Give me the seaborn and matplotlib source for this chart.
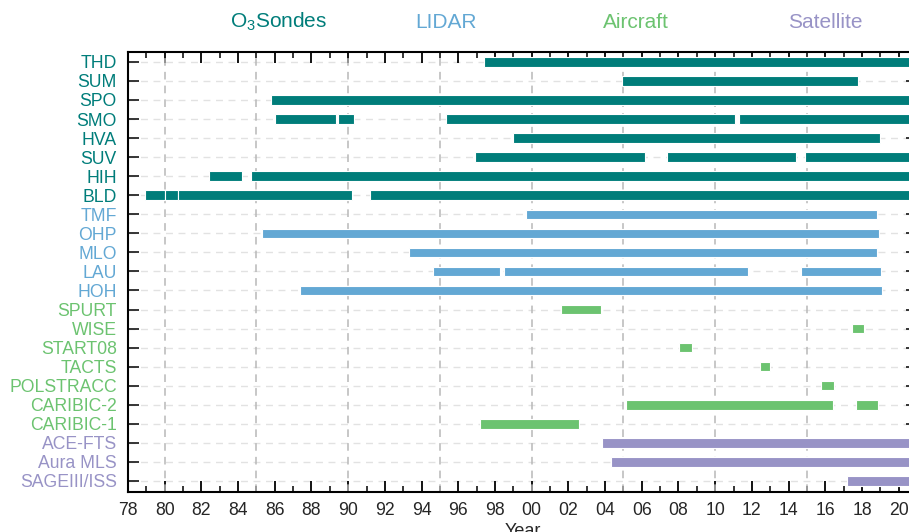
import numpy as np
import pandas as pd
import matplotlib
matplotlib.use("Agg")
import matplotlib.pyplot as plt
import seaborn as sns

# ---------------- data ----------------
stations = ["THD", "SUM", "SPO", "SMO", "HVA", "SUV", "HIH", "BLD",
            "TMF", "OHP", "MLO", "LAU", "HOH",
            "SPURT", "WISE", "START08", "TACTS", "POLSTRACC", "CARIBIC-2", "CARIBIC-1",
            "ACE-FTS", "Aura MLS", "SAGEIII/ISS"]
station_group = (["O3Sondes"] * 8 + ["LIDAR"] * 5 + ["Aircraft"] * 7 + ["Satellite"] * 3)
group_names = ["O3Sondes", "LIDAR", "Aircraft", "Satellite"]
group_titles = ["O$_3$Sondes", "LIDAR", "Aircraft", "Satellite"]

seg_station = ["THD", "SUM", "SPO",
               "SMO", "SMO", "SMO", "SMO",
               "HVA",
               "SUV", "SUV", "SUV",
               "HIH", "HIH",
               "BLD", "BLD", "BLD", "BLD",
               "TMF", "OHP", "MLO",
               "LAU", "LAU", "LAU",
               "HOH",
               "SPURT", "WISE", "START08", "TACTS", "POLSTRACC",
               "CARIBIC-2", "CARIBIC-2", "CARIBIC-1",
               "ACE-FTS", "Aura MLS", "SAGEIII/ISS"]
seg_start = [1997.4, 2004.9, 1985.8,
             1986.0, 1989.47, 1995.35, 2011.3,
             1999.0,
             1996.9, 2007.4, 2014.9,
             1982.4, 1984.7,
             1978.9, 1980.0, 1980.7, 1991.2,
             1999.7, 1985.3, 1993.3,
             1994.6, 1998.5, 2014.7,
             1987.4,
             2001.6, 2017.45, 2008.05, 2012.45, 2015.75,
             2005.15, 2017.7, 1997.2,
             2003.85, 2004.35, 2017.2]
seg_end = [2021.5, 2017.8, 2021.5,
           1989.35, 1990.3, 2011.1, 2021.5,
           2019.0,
           2006.2, 2014.4, 2021.5,
           1984.2, 2021.5,
           1980.0, 1980.7, 1990.2, 2021.5,
           2018.8, 2018.95, 2018.8,
           1998.3, 2011.8, 2019.05,
           2019.1,
           2003.8, 2018.1, 2008.75, 2013.0, 2016.5,
           2016.4, 2018.9, 2002.6,
           2021.5, 2021.5, 2021.5]

year_ticks = list(range(1978, 2021, 2))
year_labels = [f"{y % 100:02d}" for y in year_ticks]

# ---------------- style ----------------
colors = {"O3Sondes": "#007d7a", "LIDAR": "#63a8d4",
          "Aircraft": "#6cc370", "Satellite": "#9893c6"}

sns.set_style("ticks")
plt.rcParams["font.family"] = ["Liberation Sans", "DejaVu Sans"]
plt.rcParams["mathtext.default"] = "regular"

fig = plt.figure(figsize=(9.09, 5.32), dpi=100)
W, H = 909, 532
left_px, right_px, top_px, bot_px = 128, 917, 52, 492
ax = fig.add_axes([left_px / W, 1 - bot_px / H, (right_px - left_px) / W, (bot_px - top_px) / H])

segs = pd.DataFrame({"station": seg_station, "start": seg_start, "end": seg_end})
segs["length"] = segs["end"] - segs["start"]
grp_of = dict(zip(stations, station_group))

for _, row in segs.iterrows():
    sns.barplot(data=row.to_frame().T.astype({"length": float}), x="length", y="station",
                order=stations, orient="h", color=colors[grp_of[row["station"]]],
                left=float(row["start"]), width=0.5, errorbar=None, ax=ax,
                edgecolor="white", linewidth=0.8, saturation=1, zorder=2)

# grid lines
for i in range(len(stations)):
    ax.axhline(i, color="#e2e2e2", lw=1.0, dashes=(5, 4), zorder=0.5)
for x in range(1980, 2020, 5):
    ax.axvline(x, color="#b8b8b8", lw=1.1, dashes=(5, 4), zorder=0.6)

ax.set_xlim(1978, 2021)
ax.set_ylim(len(stations) - 1 + 0.58, -0.52)

ax.set_xticks(year_ticks)
ax.set_xticklabels(year_labels)
ax.set_xticks(range(1978, 2022), minor=True)
ax.set_yticks(range(len(stations)))
ax.set_yticklabels(stations)
ax.set_yticks([3, 8, 13, 18], minor=True)

ax.tick_params(axis="x", which="major", direction="in", length=8, width=1.3,
               top=True, bottom=True, labelsize=12.7, pad=7, color="black")
ax.tick_params(axis="x", which="minor", direction="in", length=4, width=1.3,
               top=True, bottom=True)
ax.tick_params(axis="y", which="major", direction="in", length=8, width=1.3,
               left=True, right=True, labelsize=12.7, pad=8)
ax.tick_params(axis="y", which="minor", direction="in", length=16, width=1.3,
               left=True, right=True)

for lab, st in zip(ax.get_yticklabels(), stations):
    lab.set_color(colors[grp_of[st]])

for sp in ax.spines.values():
    sp.set_visible(True)
    sp.set_linewidth(1.5)
    sp.set_color("black")

ax.set_ylabel("")
ax.set_xlabel("Year", fontsize=13, labelpad=3)
ax.grid(False)

title_x = [279, 446, 636, 825]
for name, title, xp in zip(group_names, group_titles, title_x):
    fig.text(xp / W, 1 - 22 / H, title, color=colors[name], fontsize=15,
             ha="center", va="center")

fig.savefig("out.png", dpi=100)
